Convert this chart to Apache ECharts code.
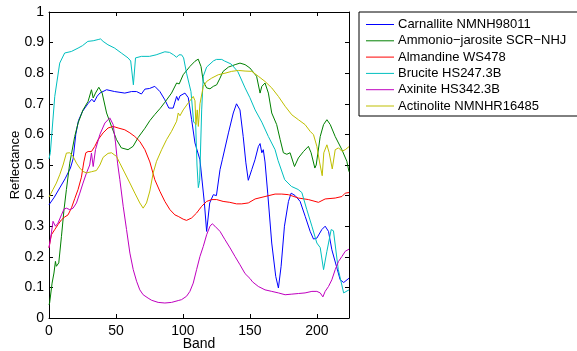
<!DOCTYPE html>
<html>
<head>
<meta charset="utf-8">
<script src="https://cdn.jsdelivr.net/npm/echarts@6/dist/echarts.min.js"></script>
<style>
  html, body { margin: 0; padding: 0; background: #fff; }
  #chart { width: 577px; height: 351px; }
</style>
</head>
<body>
<div id="chart"></div>
<script>
// Reflectance spectra, [band, reflectance]
const carnallite = [[0,0.37],[4,0.395],[8,0.425],[12,0.455],[16,0.49],[18,0.52],[20,0.6],[22,0.645],[25,0.675],[29,0.70],[32,0.715],[33.7,0.706],[36,0.725],[38,0.735],[43,0.746],[49,0.74],[56.6,0.735],[61.6,0.74],[65.4,0.74],[69,0.732],[71.6,0.748],[75,0.75],[79,0.757],[82.8,0.74],[86.5,0.713],[89.5,0.686],[92.7,0.686],[95.3,0.724],[96.5,0.711],[97.8,0.726],[101.5,0.735],[104,0.72],[106.5,0.648],[109,0.572],[112.7,0.517],[116,0.377],[117.7,0.283],[120,0.376],[122.7,0.403],[125,0.40],[127.7,0.485],[129.4,0.517],[134,0.605],[137.6,0.67],[140,0.70],[142.6,0.68],[145,0.593],[147,0.507],[148.8,0.45],[149.5,0.448],[151.4,0.485],[153.8,0.517],[156.3,0.56],[157.6,0.57],[158.9,0.54],[160,0.55],[161.3,0.51],[163.3,0.408],[166.3,0.245],[169.3,0.136],[171.3,0.098],[173.3,0.169],[175.8,0.30],[178.8,0.381],[180.8,0.408],[183.8,0.40],[187.5,0.381],[191.3,0.332],[195,0.283],[197.5,0.258],[200,0.261],[203.7,0.289],[206.2,0.30],[208.7,0.283],[211.2,0.223],[215,0.163],[217.4,0.125],[220,0.116],[224,0.13]];

const ammonioJarosite = [[0,0.043],[0.5,0.05],[2.3,0.114],[3.7,0.147],[4.8,0.185],[5.5,0.169],[6.3,0.175],[7.3,0.18],[9.3,0.267],[11.2,0.354],[13,0.42],[15.5,0.506],[19.2,0.593],[21.7,0.637],[25.4,0.68],[29.2,0.708],[31.7,0.746],[33,0.719],[34.7,0.735],[37.2,0.754],[39.7,0.735],[43,0.67],[46.7,0.626],[50.4,0.583],[54,0.556],[59,0.55],[62.8,0.561],[66.6,0.59],[71.6,0.62],[75.3,0.645],[79,0.665],[83,0.685],[86.5,0.705],[91.5,0.735],[95.3,0.768],[97.2,0.765],[100.2,0.795],[105.2,0.822],[109,0.839],[111.4,0.846],[113.5,0.822],[115.2,0.773],[117.7,0.752],[120.2,0.749],[122.7,0.757],[125.2,0.762],[127.7,0.784],[130,0.806],[134,0.82],[139,0.828],[142.6,0.833],[146.4,0.828],[150,0.817],[155,0.79],[157.6,0.735],[158.9,0.757],[161.3,0.768],[163.8,0.735],[166.3,0.67],[170,0.632],[172.6,0.583],[175,0.54],[177.6,0.535],[180,0.54],[183.3,0.495],[186.2,0.523],[190,0.544],[193.7,0.561],[195.7,0.54],[198.5,0.49],[199.5,0.5],[202.5,0.593],[205,0.632],[207.5,0.648],[210,0.632],[213.7,0.593],[218.7,0.55],[222.4,0.512],[224,0.478]];

const almandine = [[0,0.23],[1.8,0.272],[4.3,0.289],[6.7,0.305],[9.3,0.321],[11.7,0.33],[14.2,0.337],[16.8,0.36],[19.2,0.39],[21.7,0.42],[24.2,0.46],[26,0.51],[27.5,0.54],[29.2,0.544],[31.7,0.544],[34.2,0.561],[36.7,0.583],[40.4,0.605],[44.1,0.621],[47.9,0.626],[51.6,0.621],[56.6,0.615],[60.4,0.605],[64.1,0.593],[67.8,0.577],[71.6,0.55],[75.3,0.51],[79,0.452],[82.8,0.414],[86.5,0.381],[90.3,0.354],[94,0.337],[96.5,0.332],[97.5,0.337],[100.2,0.323],[102.7,0.319],[106.5,0.327],[110.2,0.343],[114,0.365],[117.7,0.381],[121.5,0.387],[125.2,0.387],[130,0.381],[135,0.378],[140,0.373],[143.9,0.373],[145,0.367],[148.8,0.376],[153.9,0.389],[161.3,0.397],[168.8,0.405],[173.8,0.405],[178.8,0.403],[186.2,0.392],[193.7,0.387],[201.2,0.378],[206.2,0.389],[213.7,0.392],[218.7,0.397],[221.2,0.408],[224,0.41]];

const brucite = [[0,0.52],[1,0.54],[4.3,0.724],[8,0.833],[11.7,0.866],[16.7,0.871],[21.7,0.882],[25,0.89],[29,0.904],[33,0.906],[36.7,0.91],[38.5,0.912],[40.4,0.904],[41.5,0.91],[44,0.893],[49,0.882],[54,0.866],[59,0.85],[61,0.84],[62.3,0.845],[63,0.762],[64.6,0.85],[69,0.855],[75,0.855],[80,0.86],[86.5,0.87],[90,0.868],[93,0.86],[95.3,0.852],[97,0.86],[99,0.86],[100.5,0.85],[102.7,0.80],[106,0.74],[108,0.64],[109.5,0.635],[110.5,0.5],[111.5,0.426],[112.5,0.45],[114,0.68],[115.2,0.79],[117.7,0.82],[122.7,0.84],[125,0.845],[129,0.845],[131,0.84],[136,0.83],[141,0.805],[146.4,0.752],[150,0.72],[153.9,0.68],[158.9,0.64],[163.8,0.593],[168.8,0.55],[171,0.515],[176,0.452],[181,0.43],[186,0.42],[188.8,0.41],[192.5,0.354],[196.3,0.30],[200,0.245],[202.5,0.23],[205,0.158],[207.5,0.218],[210.7,0.289],[212.4,0.285],[216,0.158],[220,0.082],[224,0.092]];

const axinite = [[0,0.229],[1.8,0.278],[3,0.316],[4.8,0.30],[6.7,0.31],[9.3,0.337],[11.2,0.356],[13,0.359],[15.5,0.354],[18,0.359],[20.5,0.376],[23,0.408],[25.4,0.441],[28,0.474],[30.4,0.50],[31.7,0.539],[33,0.495],[34.7,0.55],[38,0.60],[41.7,0.637],[45.4,0.654],[47.9,0.632],[49.7,0.572],[51.2,0.506],[52.9,0.452],[55.4,0.365],[57.9,0.289],[60.4,0.212],[62.9,0.158],[65.4,0.12],[67.8,0.092],[70.3,0.076],[74,0.065],[76.6,0.058],[81.5,0.051],[86.5,0.049],[91.5,0.051],[96.5,0.057],[99,0.06],[102.7,0.071],[105.2,0.087],[107.7,0.114],[110.2,0.158],[112.7,0.201],[115.2,0.234],[117.7,0.272],[120.2,0.30],[121.9,0.308],[123.9,0.30],[127.7,0.283],[131.4,0.256],[135.2,0.229],[138.9,0.201],[142.6,0.174],[146.4,0.145],[150.1,0.129],[152,0.118],[156.3,0.103],[161.3,0.092],[166.3,0.087],[171.3,0.082],[176.3,0.076],[181.3,0.078],[186.2,0.08],[191.2,0.082],[196.3,0.087],[200,0.087],[202.5,0.082],[204.5,0.069],[206.2,0.087],[208.7,0.103],[211.2,0.125],[213.7,0.158],[216.2,0.185],[218.7,0.201],[221.2,0.218],[224,0.225]];

const actinolite = [[0,0.395],[3,0.42],[5.5,0.441],[8,0.468],[10.5,0.5],[13,0.539],[15.5,0.54],[18,0.528],[20.5,0.506],[23,0.49],[25.4,0.479],[28,0.474],[31.7,0.478],[35.4,0.482],[38,0.5],[40.4,0.525],[44.1,0.538],[46.7,0.54],[50.4,0.528],[52.9,0.506],[56.6,0.474],[60.4,0.441],[64.1,0.408],[67.8,0.376],[70.3,0.359],[72.8,0.376],[75.3,0.415],[77.8,0.474],[80.3,0.512],[84.1,0.55],[87.8,0.583],[91.5,0.61],[95.3,0.643],[96.5,0.67],[97.8,0.661],[100.2,0.68],[104,0.703],[107.7,0.724],[109,0.71],[109.7,0.632],[110.7,0.68],[111.5,0.626],[112.7,0.70],[115.2,0.757],[117.7,0.773],[121.5,0.784],[126.4,0.795],[131.4,0.80],[136.4,0.806],[141.4,0.809],[146.4,0.807],[151.4,0.806],[156.3,0.79],[161.3,0.773],[166.3,0.752],[171.3,0.724],[176.3,0.692],[181.3,0.664],[186.2,0.648],[191.2,0.632],[195,0.61],[197.5,0.599],[200,0.561],[202,0.51],[204,0.465],[205.2,0.54],[207.5,0.566],[209.2,0.54],[211.5,0.487],[213.7,0.55],[216.2,0.556],[218.7,0.545],[221.2,0.55],[224,0.56]];

const seriesNames = ['Carnallite NMNH98011', 'Ammonio\u2212jarosite SCR\u2212NHJ', 'Almandine WS478', 'Brucite HS247.3B', 'Axinite HS342.3B', 'Actinolite NMNHR16485'];
const seriesData = [carnallite, ammonioJarosite, almandine, brucite, axinite, actinolite];
const seriesColors = ['#0000ff', '#008000', '#ff0000', '#00bfbf', '#bf00bf', '#bfbf00'];

const xTicks = { min: 0, max: 224, interval: 50 };
const yTicks = { min: 0, max: 1, interval: 0.1 };

const FONT = '"Liberation Sans", Arial, Helvetica, sans-serif';
const INK = '#000';

const chart = echarts.init(document.getElementById('chart'), null, { renderer: 'canvas' });

function frameAxis(extra) {
  return Object.assign({
    axisLine: { show: true, onZero: false, lineStyle: { color: INK, width: 1 } },
    axisTick: { show: true, inside: true, length: 4, lineStyle: { color: INK, width: 1 } },
    splitLine: { show: false },
    axisLabel: { show: false }
  }, extra);
}

chart.setOption({
  animation: false,
  backgroundColor: '#fff',
  grid: { left: 49, right: 228, top: 12, bottom: 33, containLabel: false, outerBoundsMode: 'none' },
  legend: {
    orient: 'vertical',
    left: 359,
    top: 12,
    padding: [4.5, 30, 2, 7],
    itemGap: 0.3,
    itemWidth: 28,
    itemHeight: 1,
    icon: 'rect',
    backgroundColor: '#fff',
    borderColor: INK,
    borderWidth: 1,
    selectedMode: false,
    textStyle: { fontFamily: FONT, fontSize: 13, color: INK, lineHeight: 16, padding: [0, 0, 0, -1] },
    data: seriesNames
  },
  xAxis: [
    frameAxis({
      type: 'value', position: 'bottom',
      min: xTicks.min, max: xTicks.max, interval: xTicks.interval,
      name: 'Band', nameLocation: 'middle', nameGap: 19, nameMoveOverlap: false,
      nameTextStyle: { fontFamily: FONT, fontSize: 14, color: INK },
      axisLabel: { show: true, margin: 6, fontFamily: FONT, fontSize: 14, color: INK,
        showMaxLabel: false }
    }),
    frameAxis({
      type: 'value', position: 'top',
      min: xTicks.min, max: xTicks.max, interval: xTicks.interval
    })
  ],
  yAxis: [
    frameAxis({
      type: 'value', position: 'left',
      min: yTicks.min, max: yTicks.max, interval: yTicks.interval,
      name: 'Reflectance', nameLocation: 'middle', nameGap: 27, nameMoveOverlap: false,
      nameTextStyle: { fontFamily: FONT, fontSize: 13, color: INK },
      axisLabel: { show: true, margin: 5, fontFamily: FONT, fontSize: 14, color: INK,
        formatter: function (v) { return String(Math.round(v * 10) / 10); } }
    }),
    frameAxis({
      type: 'value', position: 'right',
      min: yTicks.min, max: yTicks.max, interval: yTicks.interval
    })
  ],
  series: seriesNames.map(function (name, i) {
    return {
      name: name,
      type: 'line',
      xAxisIndex: 0,
      yAxisIndex: 0,
      data: seriesData[i],
      showSymbol: false,
      symbol: 'none',
      smooth: false,
      clip: true,
      color: seriesColors[i],
      lineStyle: { width: 1, color: seriesColors[i] },
      emphasis: { disabled: true }
    };
  })
});
</script>
</body>
</html>
